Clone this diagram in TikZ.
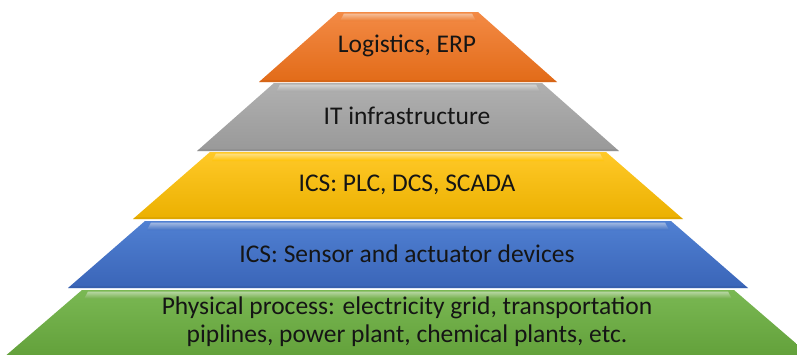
\documentclass[tikz,border=0pt]{standalone}
\usepackage{fontspec}
\setmainfont{Carlito}
\definecolor{orT}{HTML}{F38A45}\definecolor{orM}{HTML}{ED7D31}\definecolor{orB}{HTML}{E26B18}
\definecolor{grT}{HTML}{B0B0B0}\definecolor{grM}{HTML}{A5A5A5}\definecolor{grB}{HTML}{999999}
\definecolor{yeT}{HTML}{FFC928}\definecolor{yeM}{HTML}{FFC000}\definecolor{yeB}{HTML}{EBB000}
\definecolor{blT}{HTML}{5080D2}\definecolor{blM}{HTML}{4472C4}\definecolor{blB}{HTML}{3A65B8}
\definecolor{gnT}{HTML}{7AB853}\definecolor{gnM}{HTML}{70AD47}\definecolor{gnB}{HTML}{62A03A}
\definecolor{txt}{HTML}{151515}
\tikzset{
  lbl/.style={text=txt, font=\fontsize{25.5}{28}\selectfont, align=center, inner sep=0pt},
}
% #1 top y, #2 bottom y, #3 top half width, #4 bottom half width, #5 color prefix
\newcommand{\pyrlayer}[5]{%
  \shade[top color=#5T, middle color=#5M, bottom color=#5B]
    (408-#3,#1) -- (408+#3,#1) -- (408+#4,#2) -- (408-#4,#2) -- cycle;
  % top highlight band
  \shade[top color=white!55!#5M, bottom color=#5M, opacity=0.9]
    (408-#3+6,#1+1.5) -- (408+#3-6,#1+1.5) -- (408+#3-2,#1+9) -- (408-#3+2,#1+9) -- cycle;
  % bottom shadow line
  \fill[#5B!85!black, opacity=0.35]
    (408-#4+3,#2-2) -- (408+#4-3,#2-2) -- (408+#4,#2) -- (408-#4,#2) -- cycle;
}
\begin{document}
\begin{tikzpicture}[x=1pt,y=-1pt]
\useasboundingbox (0,0) rectangle (797,354);
\clip (0,0) rectangle (797,354);
\pyrlayer{290}{358}{326}{405}{gn}
\pyrlayer{221}{288}{263}{340}{bl}
\pyrlayer{152}{219}{198}{275}{ye}
\pyrlayer{83}{151}{134}{211}{gr}
\pyrlayer{12}{82}{70}{149}{or}
\node[lbl] (erp) at (407,46) {Logistics, ERP};
\node[lbl] (it) at (407,116) {IT infrastructure};
\node[lbl] (plc) at (407,185) {ICS: PLC, DCS, SCADA};
\node[lbl] (sens) at (407,254) {ICS: Sensor and actuator devices};
\node[lbl] (phys) at (407,322) {Physical process: electricity grid, transportation\\piplines, power plant, chemical plants, etc.};
\end{tikzpicture}
\end{document}
